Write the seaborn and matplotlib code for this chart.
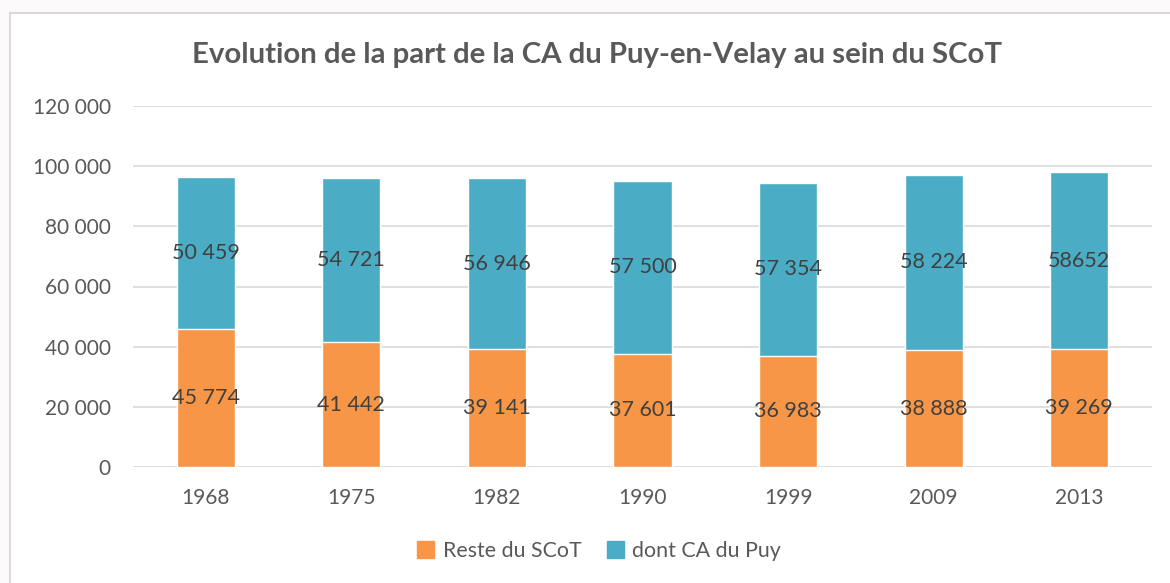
import matplotlib
matplotlib.use("Agg")
import matplotlib.pyplot as plt
import matplotlib.patches as mpatches
import seaborn as sns
import pandas as pd

# data
annees = ["1968", "1975", "1982", "1990", "1999", "2009", "2013"]
reste_scot = [45774, 41442, 39141, 37601, 36983, 38888, 39269]
ca_puy = [50459, 54721, 56946, 57500, 57354, 58224, 58652]
labels_reste = ["45 774", "41 442", "39 141", "37 601", "36 983", "38 888", "39 269"]
labels_ca = ["50 459", "54 721", "56 946", "57 500", "57 354", "58 224", "58652"]
yticks = [0, 20000, 40000, 60000, 80000, 100000, 120000]

orange = "#F79646"
bleu = "#4BACC6"
gris = "#595959"

df = pd.DataFrame({"annee": annees, "reste": reste_scot, "ca": ca_puy})
df["total"] = df["reste"] + df["ca"]

sns.set_style("white")
plt.rcParams["font.family"] = ["Lato", "DejaVu Sans"]

fig = plt.figure(figsize=(11.7, 5.83), dpi=100, facecolor="#fdfafb")
# chart area frame like the office export
fig.patches.append(mpatches.Rectangle((10 / 1170, -0.05), 1.2, 1 - 13 / 583 + 0.05,
                                      transform=fig.transFigure, facecolor="white",
                                      edgecolor="#d9d9d9", lw=1.5, zorder=-1))
ax = fig.add_axes([133 / 1170, 1 - 467 / 583, 1019 / 1170, 361 / 583])
ax.set_zorder(2)
ax.set_facecolor("none")

# blue total first, orange on top -> stacked look
sns.barplot(data=df, x="annee", y="total", color=bleu, width=0.4, ax=ax,
            saturation=1, zorder=2)
sns.barplot(data=df, x="annee", y="reste", color=orange, width=0.4, ax=ax,
            saturation=1, zorder=3)

for i in range(len(annees)):
    ax.text(i, reste_scot[i] / 2, labels_reste[i], ha="center", va="center",
            fontsize=15.5, color="#404040", zorder=5)
    ax.text(i, reste_scot[i] + ca_puy[i] / 2, labels_ca[i], ha="center", va="center",
            fontsize=15.5, color="#404040", zorder=5)

ax.set_ylim(0, 120000)
ax.set_xlim(-0.5, len(annees) - 0.5)
ax.set_yticks(yticks)
ax.set_yticklabels([f"{v:,}".replace(",", " ") for v in yticks])
ax.yaxis.grid(True, color="#d9d9d9", lw=1.2, zorder=0)
ax.set_axisbelow(True)
ax.tick_params(axis="both", length=0, labelsize=15, labelcolor=gris)
ax.tick_params(axis="y", pad=16)
ax.tick_params(axis="x", pad=15)
ax.set_xlabel("")
ax.set_ylabel("")
sns.despine(ax=ax, left=True, top=True, right=True, bottom=True)

fig.text(0.51, 1 - 55 / 583, "Evolution de la part de la CA du Puy-en-Velay au sein du SCoT",
         ha="center", va="center", fontsize=21.2, fontweight="bold", color=gris)

handles = [mpatches.Patch(color=orange, label="Reste du SCoT"),
           mpatches.Patch(color=bleu, label="dont CA du Puy")]
leg = fig.legend(handles=handles, loc="center", bbox_to_anchor=(0.512, 1 - 551 / 583),
                 ncol=2, frameon=False, fontsize=15.4, handlelength=0.8, handleheight=0.8,
                 handletextpad=0.4, columnspacing=1.2)
for t in leg.get_texts():
    t.set_color(gris)

fig.savefig("out.png", dpi=100, facecolor=fig.get_facecolor())
